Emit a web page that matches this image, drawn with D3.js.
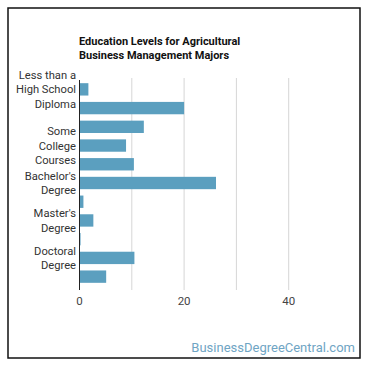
<!DOCTYPE html>
<html>
<head>
    <title>Education Levels for Agricultural Business Management Majors</title>
    <style>
        body { margin: 0; background: #fff; }
        text { font-family: Roboto, "Noto Sans", sans-serif; }
    </style>
</head>
<body>
    <svg id="chart" width="370" height="370"></svg>
    <script src="https://cdn.jsdelivr.net/npm/d3@7"></script>
    <script>
        // data
        var categories = ["Less than a High School Diploma", "High School Diploma", "Post-Secondary Certificate",
                          "Some College Courses", "Associate's Degree", "Bachelor's Degree",
                          "Post-Baccalaureate Certificate", "Master's Degree", "Post-Master's Certificate",
                          "Doctoral Degree", "Post-Doctoral Training"];
        var values = [1.7, 20, 12.3, 8.9, 10.4, 26.1, 0.75, 2.65, 0.2, 10.5, 5.1];
        // the chart only prints some labels, wrapped over lines
        var tickLabels = [["Less than a", "High School", "Diploma"], [], [],
                          ["Some", "College", "Courses"], [],
                          ["Bachelor's", "Degree"], [],
                          ["Master's", "Degree"], [],
                          ["Doctoral", "Degree"], []];
        var gridTicks = [10, 20, 30, 40];
        var xTickLabels = [0, 20, 40];
        var titleLines = ["Education Levels for Agricultural", "Business Management Majors"];

        var svg = d3.select("#chart");

        // outer frame
        svg.append("rect")
           .attr("x", 8).attr("y", 8)
           .attr("width", 352).attr("height", 350)
           .attr("fill", "none")
           .attr("stroke", "#111")
           .attr("stroke-width", 1.5);

        var x = d3.scaleLinear().domain([0, 50]).range([79.5, 341]);
        var y = d3.scaleBand().domain(categories).range([80, 286]).paddingInner(0.34).paddingOuter(0.17);

        // title
        svg.append("text")
           .attr("x", 79)
           .attr("y", 45)
           .attr("font-size", 11)
           .attr("font-weight", "bold")
           .attr("fill", "#111")
           .selectAll("tspan")
           .data(titleLines)
           .enter().append("tspan")
           .attr("x", 79)
           .attr("dy", function(d, i) { return i ? 14 : 0; })
           .text(function(d) { return d; });

        // grid
        svg.append("g").selectAll("line")
           .data(gridTicks)
           .enter().append("line")
           .attr("x1", function(d) { return x(d); })
           .attr("x2", function(d) { return x(d); })
           .attr("y1", 78).attr("y2", 290)
           .attr("stroke", "#d6d6d6")
           .attr("stroke-width", 1);

        // bars
        svg.append("g").selectAll("rect")
           .data(values)
           .enter().append("rect")
           .attr("x", x(0))
           .attr("y", function(d, i) { return y(categories[i]); })
           .attr("width", function(d) { return x(d) - x(0); })
           .attr("height", y.bandwidth())
           .attr("fill", "#5b9fbf");

        // axis line
        svg.append("line")
           .attr("x1", x(0)).attr("x2", x(0))
           .attr("y1", 80).attr("y2", 290)
           .attr("stroke", "#222")
           .attr("stroke-width", 1);

        // category labels
        var lineH = 14.3;
        svg.append("g").selectAll("text")
           .data(categories)
           .enter().append("text")
           .attr("text-anchor", "end")
           .attr("font-size", 11.2)
           .attr("fill", "#333")
           .each(function(d, i) {
               var lines = tickLabels[i];
               var cy = y(d) + y.bandwidth() / 2;
               var top = cy - (lines.length - 1) * lineH / 2;
               d3.select(this).selectAll("tspan")
                 .data(lines)
                 .enter().append("tspan")
                 .attr("x", 76)
                 .attr("y", function(l, j) { return top + j * lineH + 4; })
                 .text(function(l) { return l; });
           });

        // x tick labels
        svg.append("g").selectAll("text")
           .data(xTickLabels)
           .enter().append("text")
           .attr("x", function(d) { return x(d); })
           .attr("y", 305)
           .attr("text-anchor", "middle")
           .attr("font-size", 11.5)
           .attr("fill", "#444")
           .text(function(d) { return d; });

        // watermark
        svg.append("text")
           .attr("x", 355)
           .attr("y", 352)
           .attr("text-anchor", "end")
           .attr("font-size", 13)
           .attr("fill", "#6fa5c4")
           .text("BusinessDegreeCentral.com");
    </script>
</body>
</html>
